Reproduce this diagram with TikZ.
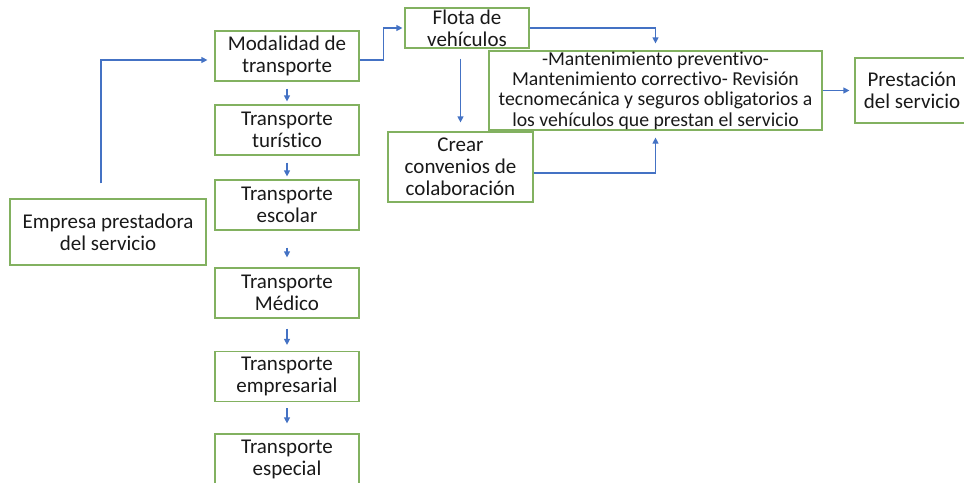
\documentclass[tikz,border=0pt]{standalone}
\usepackage{fontspec}
\setmainfont{Carlito}[Ligatures=NoCommon]
\usetikzlibrary{arrows.meta}
\usetikzlibrary{calc}
\definecolor{boxgreen}{RGB}{130,177,96}
\definecolor{arrowblue}{RGB}{68,114,196}
\definecolor{textgray}{RGB}{25,25,25}

\begin{document}
\begin{tikzpicture}[x=0.75pt, y=-0.75pt,
    caja/.style={draw=boxgreen, line width=0.9pt, inner sep=0pt, align=center, text=textgray,
      font=\fontsize{15.75pt}{16.5pt}\selectfont},
    flecha/.style={draw=arrowblue, line width=0.9pt, -{Triangle[length=4.5pt, width=4.5pt]}}]
      \useasboundingbox (0,0) rectangle (964,482);

      \node[caja, minimum width=147pt, minimum height=49.5pt] (empresa) at (108,232) {Empresa prestadora\\del servicio};
      \node[caja, minimum width=108pt, minimum height=37.5pt] (modal) at (287,56) {Modalidad de\\transporte};
      \node[caja, minimum width=108pt, minimum height=37.5pt] (turist) at (287,130) {Transporte\\turístico};
      \node[caja, minimum width=108pt, minimum height=37.5pt] (escolar) at (287,205) {Transporte\\escolar};
      \node[caja, minimum width=108pt, minimum height=37.5pt] (medico) at (287,293) {Transporte\\Médico};
      \node[caja, minimum width=108pt, minimum height=37.5pt] (empres) at (287,376.5) {Transporte\\empresarial};
      \node[caja, minimum width=108pt, minimum height=37.5pt] (especial) at (287,459) {Transporte\\especial};
      \node[caja, minimum width=93pt, minimum height=30pt] (flota) at (467,28) {Flota de\\vehículos};
      \node[caja, minimum width=249.75pt, minimum height=59.25pt, font=\fontsize{14.8pt}{15.2pt}\selectfont] (mant) at (655.5,90.5)
        {-Mantenimiento preventivo-\\Mantenimiento correctivo- Revisión\\tecnomecánica y seguros obligatorios a\\los vehículos que prestan el servicio};
      \node[caja, minimum width=108.75pt, minimum height=52.5pt] (crear) at (460.5,167) {Crear\\convenios de\\colaboración};
      \node[caja, minimum width=85.5pt, minimum height=48.75pt] (prest) at (912,90.5) {Prestación\\del servicio};

      \draw[flecha, shorten <=11.25pt, shorten >=5.25pt] ($(empresa.north)+(-7,0)$) |- ($(modal.west)+(0,4)$);
      \draw[flecha, shorten <=5.25pt, shorten >=2.25pt] (modal) -- (turist);
      \draw[flecha, shorten <=5.25pt, shorten >=2.25pt] (turist) -- (escolar);
      \draw[flecha, shorten <=12.75pt, shorten >=7.5pt] (escolar) -- (medico);
      \draw[flecha, shorten <=7.5pt, shorten >=4.5pt] (medico) -- (empres);
      \draw[flecha, shorten <=4.5pt, shorten >=7.5pt] (empres) -- (especial);
      \draw[flecha, shorten >=1.5pt] ($(modal.east)+(0,4)$) -- ++(24,0) |- (flota.west);
      \draw[flecha, shorten >=5.25pt] (flota.east) -| (mant.north);
      \draw[flecha, shorten <=7.5pt, shorten >=6.75pt] (flota.south -| crear.north) -- (crear.north);
      \draw[flecha, shorten >=5.25pt] ($(crear.east)+(0,6)$) -| (mant.south);
      \draw[flecha, shorten >=3.75pt] (mant) -- (prest);
    \end{tikzpicture}
\end{document}
